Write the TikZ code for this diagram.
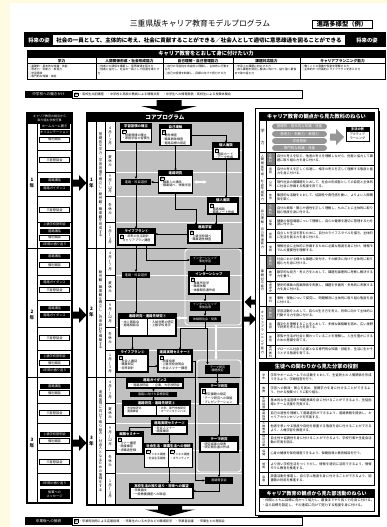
\documentclass[tikz,border=0pt]{standalone}
\usepackage{fontspec}
\setmainfont{Noto Sans CJK JP}
\usetikzlibrary{arrows.meta}
\XeTeXlinebreaklocale "ja"
\XeTeXlinebreakskip=0pt plus 0.5pt
\definecolor{cream}{RGB}{255,251,226}
\definecolor{coregray}{RGB}{192,192,192}
\definecolor{pillgray}{RGB}{150,150,150}
\definecolor{taggray}{RGB}{130,130,130}
\newcommand\fz[2]{\fontsize{#1}{#2}\selectfont}
\newcommand\fA{\fz{3.1}{3.7}}
\newcommand\fAA{\fz{2.8}{3.4}}
\newcommand\fH{\fz{3.4}{3.9}}
\ExplSyntaxOn
\bool_new:N \g_vt_first_bool
\NewDocumentCommand\vt{m}{
  \bool_gset_true:N \g_vt_first_bool
  \tl_map_inline:nn {#1}{
    \bool_if:NF \g_vt_first_bool { \\ }
    \bool_gset_false:N \g_vt_first_bool
    ##1
  }
}
\ExplSyntaxOff
\newcommand\til{\rotatebox[origin=c]{90}{〜}}
\newcommand\rei{{\fboxsep=0.25pt\fboxrule=0.25pt\fbox{例}}}
\tikzset{
  every node/.style={inner sep=0pt, outer sep=0pt},
  blk/.style={fill=black, text=white, align=center},
  cb/.style={draw=black, fill=white, line width=1.1pt},
  hd/.style={fill=black, text=white, font=\fH\bfseries, align=center},
  litem/.style={minimum width=30pt, minimum height=5pt, font=\fz{3.2}{3.6}},
  arr/.style={-{Latex[length=2.4pt,width=2.4pt]}, line width=1pt},
  warr/.style={-{Latex[length=3.5pt,width=4pt]}, white, line width=1.6pt},
  wdarr/.style={{Latex[length=3.5pt,width=4pt]}-{Latex[length=3.5pt,width=4pt]}, white, line width=1.6pt},
  vtx/.style={text width=8pt, align=center},
}
\newcommand\cbx[8]{%
  \node[cb, minimum width=#4pt, minimum height=#5pt] (#1) at (#2,#3) {};
  \node[hd, anchor=north, minimum width=#4pt, minimum height=#8pt] (#1h) at (#1.north) {#6};
  \node[anchor=north west, font=\fA, align=left] (#1c) at ([xshift=1.5pt,yshift=-#8pt-1pt]#1.north west) {#7};
}
\newcommand\prow[6]{%
  \node[draw=black, line width=0.35pt, fill=#3, minimum width=9pt, minimum height=12.875pt] (#1t) at (270.5,#2) {};
  \node[font=\fz{2.8}{3.05}, vtx, text=#4] (#1v) at (#1t) {\vt{#5}};
  \node[anchor=west, font=\fz{3.2}{3.9}, text width=96pt, align=left] (#1x) at (277,#2) {#6};
}
\newcommand\brow[4]{%
  \node[font=\fz{2.8}{3.05}, vtx] (#1v) at (263.75,#2) {\vt{#3}};
  \node[anchor=west, font=\fz{3.2}{3.9}, text width=102pt, align=left] (#1x) at (270.5,#2) {#4};
}
\begin{document}
\begin{tikzpicture}[x=1pt,y=-1pt]
\useasboundingbox (0,0) rectangle (387,527);
\fill[cream] (0,0) rectangle (387,527);
\fill[white] (10,3) rectangle (387,527);

% ---------- title ----------
\node[font=\fz{7.8}{9}] (title) at (200,24) {三重県版キャリア教育モデルプログラム};
\node[draw, line width=0.8pt, font=\fz{6.3}{7}\bfseries, minimum width=60pt, minimum height=8.5pt] (type) at (342,24.5) {進路多様型（例）};

% ---------- future ----------
\node[fill=black, minimum width=362pt, minimum height=15pt, anchor=north west] (fb) at (24,32.5) {};
\node[text=white, font=\fz{5.3}{6}\bfseries] (fl) at (39,40) {将来の姿};
\node[text=white, font=\fz{5.3}{6}\bfseries] (fr) at (367,40) {将来の姿};
\node[fill=white, minimum width=292pt, minimum height=10.5pt, font=\fz{5.5}{6}\bfseries] (ft) at (199,40) {社会の一員として、主体的に考え、社会に貢献することができる／社会人として適切に意思疎通を図ることができる};

% ---------- table ----------
\node[fill=black, minimum width=359pt, minimum height=30pt, anchor=north west] (tbl) at (26.5,50) {};
\node[text=white, font=\fz{5.3}{6}\bfseries] (tblh) at (206,54) {キャリア教育をとおして身に付けたい力};
\foreach \xa/\xb/\hdr [count=\i] in {27/96/学力, 96/163/人間関係形成・社会形成能力, 163/233/自己理解・自己管理能力, 233/300/課題対応能力, 300/385/キャリアプランニング能力}{
  \pgfmathsetmacro\cx{(\xa+\xb)/2}
  \pgfmathsetmacro\cw{\xb-\xa-1}
  \node[fill=white, minimum width=\cw pt, minimum height=5pt, font=\fz{3.7}{4}\bfseries] (th\i) at (\cx,61) {\hdr};
  \node[fill=white, minimum width=\cw pt, minimum height=14.5pt] (tc\i) at (\cx,71.75) {};
}
\node[anchor=north west, font=\fz{2.8}{3.2}, text width=64pt, align=left] (tx1) at (28.5,65.3) {○基礎的・基本的な知識・技能\\○思考力・判断力・表現力\\○学習意欲\\○専門的な知識・技能};
\node[anchor=north west, font=\fz{2.8}{3.2}, text width=62pt, align=left] (tx2) at (97.5,65.3) {○他者との関係を構築し、意思疎通を図る力\\○他者と協力し、社会の一員として役割を果たす力};
\node[anchor=north west, font=\fz{2.8}{3.2}, text width=65pt, align=left] (tx3) at (164.5,65.3) {○自分の可能性を肯定的に理解し、主体的に行動する力\\○自己の感情を制御し、目標に向けて努力する力};
\node[anchor=north west, font=\fz{2.8}{3.2}, text width=62pt, align=left] (tx4) at (234.5,65.3) {○学習上の課題に対応する力\\○自ら課題を発見し解決に向けて、粘り強く最後まで取り組む力};
\node[anchor=north west, font=\fz{2.8}{3.2}, text width=80pt, align=left] (tx5) at (301.5,65.3) {○働くことの意義や役割を理解する力\\○主体的かつ計画的にライフプランを考える力};

% ---------- junior high ----------
\node[blk, font=\fz{3.6}{4}, minimum width=47pt, minimum height=7.5pt] (cj) at (48.5,94.5) {中学校への働きかけ};
\node[draw, line width=0.6pt, fill=white, anchor=west, text width=226pt, minimum height=7.5pt, inner xsep=2pt, font=\fA, align=left] (cjt) at (72,94.5) {\rei\ ・高校生出前講座　・中学校と高校の教員による情報共有　・中学生への情報発信・高校生による授業体験会};
\fill (156.5,100) -- (181.5,100) -- (181.5,106) -- (197,106) -- (169,113) -- (141,106) -- (156.5,106) -- cycle;

% ---------- left column ----------
\draw[line width=1.2pt] (27,113) rectangle (72,503);
\node[blk, font=\fz{3}{3.6}, minimum width=45pt, minimum height=11pt] (lh) at (49.5,118.5) {キャリア教育の視点から\\取り組む学校行事};
\draw[line width=0.5pt] (37,124) -- (37,503);
\foreach \y in {150,172,196,222,275,300,327,350,403,423,450,473}{
  \draw[line width=0.45pt] (37,\y) -- (72,\y);
  \draw[line width=0.45pt] (105,\y) -- (115,\y);
}
\draw[line width=0.9pt] (27,248) -- (72,248);
\draw[line width=0.9pt] (27,377) -- (72,377);
\foreach \t/\y [count=\i] in {ホームルーム開き/126, オリエンテーション/132.5, 進路講話/180, 進路ガイダンス/188, 上級学校説明会/224.5, 進路講話/231, 1年間の振り返り/244, 進路講話/256, 進路ガイダンス/282, 進路講話/308, 進路ガイダンス/315, 上級学校説明会/356, 1年間の振り返り/370, 進路講話/386, 上級学校説明会/434, 3年間の振り返り/483}
  \node[litem, fill=black, text=white] (lb\i) at (54.5,\y) {\t};
\foreach \t/\y [count=\i] in {個別面談/139.5, 三者懇談会/160, 三者懇談会/210, 個別面談/237.5, 個別面談/265, 三者懇談会/290, 三者懇談会/338, 個別面談/363, 個別面談/393, 三者懇談会/413, 個別面談/441, 三者懇談会/462}
  \node[litem, draw=black, line width=0.4pt, fill=white] (lw\i) at (54.5,\y) {\t};
\node[blk, font=\fz{3.2}{3.8}, minimum width=30pt, minimum height=9.5pt] (lmsg) at (54.5,494) {後輩への\\メッセージ};
\foreach \yl/\yc [count=\i] in {1/183, 2/315, 3/443}{
  \node[font=\fz{4.6}{5.2}\bfseries, vtx] (ly\i) at (32,\yc) {\vt{{\yl}{年}}};
  \fill (73,\yc) ++(0,-3.5) -- ++(6,0) -- ++(0,-4.5) -- ++(7.5,8) -- ++(-7.5,8) -- ++(0,-4.5) -- ++(-6,0) -- cycle;
}

% ---------- core program ----------
\fill[coregray] (115,122) rectangle (243,505);
\foreach \y in {150,172,196,222,275,300,327,350,403,423,450,473}
  \draw[white, line width=0.9pt] (115.5,\y) -- (242,\y);
\draw[line width=0.5pt] (96,122) -- (96,505);
\draw[line width=0.5pt] (105,122) -- (105,505);
\draw[line width=0.5pt] (115,122) -- (115,505);
\draw[line width=0.9pt] (87,248) -- (243,248);
\draw[line width=0.9pt] (87,377) -- (243,377);
\draw[line width=1.6pt] (87,113) rectangle (243,505);
\node[blk, font=\fz{5.6}{6.4}\bfseries, minimum width=156pt, minimum height=9pt] (coreh) at (165,117.5) {コアプログラム};
\foreach \yl/\yc [count=\i] in {1/183, 2/312, 3/441}
  \node[font=\fz{4.6}{5.2}\bfseries, vtx] (cy\i) at (91.5,\yc) {\vt{{\yl}{年}}};
\node[font=\fz{3.4}{3.75}, vtx] (vt1) at (100.5,185) {\vt{基礎的な学力・学習習慣を確立し、勤労観・職業観を育成する}};
\node[font=\fz{3.4}{3.75}, vtx] (vt2) at (100.5,310) {\vt{勤労観・職業観を確立し、将来設計を構築する}};
\node[font=\fz{3.4}{3.75}, vtx] (vt3) at (100.5,441) {\vt{進路実現に向けて取り組み、社会人となるための準備をする}};
\foreach \a/\b/\c/\d/\e [count=\j] in {136/161/184/209/235, 261.5/287.5/313.5/338.5/363.5, 390/413/436.5/461.5/489}{
  \node[font=\fz{3.5}{3.9}, vtx] (mA\j) at (110,\a) {\vt{4月\til7月}};
  \node[font=\fz{3.5}{3.9}, vtx] (mB\j) at (110,\b) {\vt{夏休み}};
  \node[font=\fz{3.5}{3.9}, vtx] (mC\j) at (110,\c) {\vt{9月\til{12}月}};
  \node[font=\fz{3.5}{3.9}, vtx] (mD\j) at (110,\d) {\vt{冬休み}};
  \node[font=\fz{3.5}{3.9}, vtx] (mE\j) at (110,\e) {\vt{1月\til3月}};
}

% white regions
\node[draw=white, line width=0.9pt, rounded corners=3pt, minimum width=56pt, minimum height=76pt] (IR) at (213,287) {};
\node[draw=white, line width=0.9pt, rounded corners=3pt, minimum width=44pt, minimum height=112pt] (TR) at (219,416) {};

% year 1
\cbx{A}{136}{133}{31}{18}{学習習慣の確立}{\rei\\・授業規律の確立\\・家庭学習の習慣化}{4.5}
\cbx{B}{175.5}{135}{31}{21}{自己理解}{\rei\\・適性検査\\・職業興味検査\\・進路目標の設定}{4.5}
\cbx{C}{226}{151}{26}{16}{個人面談}{\rei\\・面談カード\\・データ作成}{4.5}
\node[blk, font=\fz{3.2}{3.6}, minimum width=30pt, minimum height=6pt] (SK1) at (136,182) {進路・科目選択};
\cbx{D}{175.5}{182}{34}{22}{進路研究}{\rei\\・職業人の講話\\・職業調べ、体験学習}{4.5}
\cbx{E}{223}{206}{30}{16}{個人面談}{\rei\\・進路相談\\・進路ノート作成}{4.5}
\cbx{F}{205}{234}{34}{18}{進路学習}{\rei\\・上級学校調べ\\・職業適性検査}{4.5}
\cbx{G}{136.5}{237}{37}{16}{ライフプラン①}{\rei\ ・将来の生活設計\\・キャリアプラン講座}{4.5}
% year 2
\node[blk, font=\fz{3}{3.4}, minimum width=30pt, minimum height=9pt] (H) at (205,260) {インターンシップ\\事前学習};
\cbx{I}{209}{283}{40}{22}{インターンシップ}{\rei\\・事業所見学\\・職場体験\\・体験報告書作成}{4.5}
\node[blk, font=\fz{3}{3.4}, minimum width=30pt, minimum height=9pt] (J) at (205,306) {インターンシップ\\事後指導};
\node[blk, font=\fz{3}{3.4}, minimum width=32pt, minimum height=6pt] (K) at (205,319) {体験報告会・発表};
\node[blk, font=\fz{3.2}{3.6}, minimum width=28pt, minimum height=6pt] (SK2) at (136,275) {進路・科目選択};
\node[cb, minimum width=57pt, minimum height=22pt] (L) at (147.5,325) {};
\node[hd, anchor=north, minimum width=57pt, minimum height=4.5pt] (Lh) at (L.north) {進路研究・進路先研究①};
\draw[line width=0.5pt] ([yshift=-4.5pt]L.north) -- (L.south);
\node[anchor=north west, font=\fA, align=left] (Lc1) at ([xshift=1.5pt,yshift=-6.5pt]L.north west) {・本人面談会\\・進路相談会};
\node[anchor=north west, font=\fA, align=left] (Lc2) at ([xshift=1.5pt,yshift=-6.5pt]L.north) {・入試対策の研究\\・上級学校見学};
\cbx{N}{132.5}{361}{31}{22}{ライフプラン②}{\rei\\・社会人講話\\・職業研究\\・将来設計}{4.5}
\cbx{M}{175}{361}{34}{22}{進路実現セミナー①}{\rei\\・面接指導\\・上級学校説明会\\・社会人マナー講座}{4.5}
% year 3
\node[cb, minimum width=56pt, minimum height=10pt] (O) at (155,383) {};
\node[hd, anchor=north, minimum width=56pt, minimum height=4.5pt] (Oh) at (O.north) {進路ガイダンス};
\node[font=\fA] (Oc) at ([yshift=-7.5pt]O.north) {・進路説明会　・企業、大学説明会};
\node[blk, font=\fz{3.1}{3.5}, minimum width=47pt, minimum height=5.5pt] (P) at (153.5,394.5) {進路に向けた目標設定};
\node[cb, minimum width=67pt, minimum height=15pt] (Q) at (156.5,408.5) {};
\node[hd, anchor=north, minimum width=67pt, minimum height=4.5pt] (Qh) at (Q.north) {進路研究・進路先研究②};
\draw[line width=0.5pt] ([yshift=-4.5pt]Q.north) -- (Q.south);
\node[anchor=north west, font=\fAA, align=left] (Qc1) at ([xshift=1.5pt,yshift=-6pt]Q.north west) {・志望校研究\\・面接練習};
\node[anchor=north west, font=\fAA, align=left] (Qc2) at ([xshift=1.5pt,yshift=-6pt]Q.north) {・大学、専門学校研究\\・オープンキャンパス};
\cbx{R}{169.5}{427.5}{35}{13}{進路実現セミナー②}{・社会人マナー\\・面接練習}{4.5}
\cbx{S}{129.5}{443}{27}{22}{就職セミナー}{\rei\\・マナー講座\\・面接練習\\・求職者登録}{4.5}
\node[cb, minimum width=48pt, minimum height=24pt] (T) at (168.5,455.5) {};
\node[hd, anchor=north, minimum width=48pt, minimum height=4.5pt] (Th) at (T.north) {社会生活・職業生活への接続};
\draw[line width=0.5pt] ([yshift=-4.5pt]T.north) -- (T.south);
\node[anchor=north west, font=\fAA, align=left] (Tc1) at ([xshift=1.5pt,yshift=-6pt]T.north west) {\rei\\・ビジネス講座\\・社会生活講座};
\node[anchor=north west, font=\fAA, align=left] (Tc2) at ([xshift=1.5pt,yshift=-6pt]T.north) {\rei\\・ビジネス講座\\・ボランティア};
\cbx{U}{161.5}{491}{63}{15}{高校生活の振り返り・将来への展望}{・卒業論文\\・一般教養講座への取組}{4.5}
\node[blk, font=\fz{3.1}{3.5}, minimum width=28pt, minimum height=6.5pt] (SR) at (219,480.5) {進路報告会};
\node[blk, font=\fz{3}{3.4}, minimum width=25pt, minimum height=9pt] (TK) at (217.5,369) {テーマ研究\\課題設定};
\cbx{V}{219}{394}{38}{21}{テーマ研究}{\rei\\・研究課題の設定\\・テーマ研究への取組\\・プレゼンテーション}{4.5}
\cbx{W}{219}{444.5}{38}{15}{テーマ研究}{・研究成果の発表\\・研究報告書の作成}{4.5}

% connectors
\draw[arr] (A.south) -- (A.south |- SK1.north);
\draw[arr] (B.south) -- (B.south |- D.north);
\draw[arr] (B.east) -| (C.north);
\draw[arr] (D.west) -- (SK1.east);
\draw[arr] (C.south) -- (C.south |- E.north);
\coordinate (wd) at (207,182);
\draw[wdarr] ([xshift=1pt]D.east) -- (wd);
\draw[arr] (D.south) -- ++(0,16) -| ([xshift=-9pt]F.north);
\draw[arr] ([xshift=-6pt]F.north east |- E.south) -- ([xshift=-6pt]F.north east);
\draw[arr] (SK1.south) -- (SK1.south |- G.north);
\draw[arr] (F.west) -- (F.west -| G.east);
\draw[arr] ([xshift=10pt]G.south) |- (H.west);
\draw[arr] (SK1.south |- G.south) -- (SK1.south |- SK2.north);
\draw[arr] (SK2.south) -- (SK2.south |- L.north);
\draw[arr] (H.south) -- (H.south |- I.north);
\draw[arr] (J.north |- I.south) -- (J.north);
\draw[arr] (J.south) -- (K.north);
\coordinate (kj) at (205,328.5);
\draw[line width=1pt] (K.south) -- (kj);
\draw[arr] (kj) -| ([xshift=5pt]M.north);
\draw[arr] (kj) -| ([xshift=-10pt]TK.north);
\coordinate (wl) at (187,318);
\draw[warr] (wl) -- (wl -| L.east);
\draw[warr] ([xshift=3pt]IR.south) -- ([xshift=3pt]IR.south |- TR.north);
\draw[arr] (N.north |- L.south) -- (N.north);
\draw[arr] ([yshift=-5pt]N.east) -- ([yshift=-5pt]M.west);
\draw[arr] (M.east) -- ++(3,0) |- (SR.west);
\draw[arr] (P.north |- O.south) -- (P.north);
\draw[arr] (P.south) -- (P.south |- Q.north);
\draw[arr] (R.north |- Q.south) -- (R.north);
\draw[arr] (R.west) -| (S.north);
\draw[arr] (R.south) -- (R.south |- T.north);
\draw[arr] (R.south |- T.south) -- (R.south |- U.north);
\draw[arr] (TK.south) -- (TK.south |- V.north);
\draw[arr] (V.south) -- (W.north);
\draw[arr] (W.south) -- (SR.north);
\draw[arr] (SR.south) |- (U.east);

% bottom
\fill (158,505.5) -- (182,505.5) -- (182,509.5) -- (195,509.5) -- (170,516) -- (145,509.5) -- (158,509.5) -- cycle;
\node[blk, font=\fz{3.6}{4}, minimum width=47pt, minimum height=8pt] (sb) at (48.5,521) {卒業後への接続};
\node[draw, line width=0.6pt, fill=white, anchor=west, text width=226pt, minimum height=8pt, inner xsep=2pt, font=\fA, align=left] (sbt) at (72,521) {\rei\ ・卒業時訪問による定着指導　・卒業生のいる大学などの職場見学　・卒業者会議　・卒業生との懇談会};

% core <-> right arrows
\fill (256,299.5) -- (251,299.5) -- (251,295.5) -- (244.5,302) -- (251,308.5) -- (251,304.5) -- (256,304.5) -- cycle;
\fill (244,316.5) -- (249.5,316.5) -- (249.5,312.5) -- (256,319) -- (249.5,325.5) -- (249.5,321.5) -- (244,321.5) -- cycle;

% ---------- right panel ----------
\fill (257.5,110.5) rectangle (380,517);
\draw[fill=white, line width=0.9pt] (255,108) rectangle (378,515);
\draw[line width=0.8pt] (259,112) rectangle (374,358);
\node[blk, font=\fz{5.2}{6}\bfseries, minimum width=115pt, minimum height=9pt] (rh1) at (316.5,116.5) {キャリア教育の観点から見た教科のねらい};
\node[font=\fz{4}{4.5}] (gl1) at (262.5,131) {学};
\node[font=\fz{4}{4.5}] (gl2) at (262.5,143) {力};
\foreach \t/\y [count=\i] in {基礎的・基本的な知識・技能/126.5, 思考力・判断力・表現力/134, 学習意欲/141, 専門的な知識・技能/148}
  \node[fill=pillgray, rounded corners=3pt, text=white, font=\fz{3.5}{4}, minimum width=55pt, minimum height=5.8pt] (pl\i) at (299.5,\y) {\t};
\fill[pillgray] (330,133.5) -- (336,133.5) -- (336,129) -- (344,137) -- (336,145) -- (336,140.5) -- (330,140.5) -- cycle;
\node[draw, line width=0.6pt, fill=white, minimum width=23pt, minimum height=14pt] (hb) at (357.5,134) {};
\node[blk, font=\fz{3.2}{3.6}\bfseries, minimum width=23pt, minimum height=5pt, anchor=north] (hbh) at (hb.north) {手法の例};
\node[font=\fz{3.1}{3.6}, align=center] (hbt) at ([yshift=-2.5pt]hb.center) {アクティブ\\ラーニング};
\draw[line width=0.5pt] (266,121) -- (266,358);
\draw[line width=0.5pt] (275,152) -- (275,358);
\foreach \y in {152,203.5,255,306.5}
  \draw[line width=0.7pt] (259,\y) -- (374,\y);
\foreach \y in {164.875,177.75,190.625,216.375,229.25,242.125,267.875,280.75,293.625,319.375,332.25,345.125}
  \draw[line width=0.4pt] (266,\y) -- (374,\y);
\node[font=\fz{3.1}{3.6}, vtx] (sl1) at (262.5,177.75) {\vt{人間関係形成・社会形成能力}};
\node[font=\fz{3.1}{3.6}, vtx] (sl2) at (262.5,229.25) {\vt{自己理解・自己管理能力}};
\node[font=\fz{3.1}{3.6}, vtx] (sl3) at (262.5,280.75) {\vt{課題対応能力}};
\node[font=\fz{3.1}{3.6}, vtx] (sl4) at (262.5,332.25) {\vt{キャリアプランニング能力}};
\prow{a1}{158.44}{taggray}{white}{全教科}{自分の考えを伝え、他者の考えを理解しながら、他者と協力して課題に取り組む力を身に付ける。}
\prow{a2}{171.31}{white}{black}{国語}{自分の考えを正しく伝達し、相手の考えを正しく理解する態度と能力を身に付ける。}
\prow{a3}{184.19}{white}{black}{公民}{現代社会の諸課題をとおして、社会の形成者としての自覚と主体的に社会に参画する態度を育てる。}
\prow{a4}{197.06}{white}{black}{体育}{集団的な活動をとおして、協調性や責任感を養い、よりよい人間関係を築く。}
\prow{b1}{209.94}{taggray}{white}{全教科}{自分の興味・関心や適性を正しく理解し、ものごとに主体的に取り組む態度を身に付ける。}
\prow{b2}{222.81}{white}{black}{保健}{健康の保持増進について理解し、自らの健康を適切に管理する力を身に付ける。}
\prow{b3}{235.69}{white}{black}{家庭}{自立した生活を営むために、自分のライフスタイルを描き、主体的に生活を創る力を身に付ける。}
\prow{b4}{248.56}{white}{black}{情報}{情報社会に主体的に参画するために必要な態度を身に付け、情報モラルの重要性を理解する。}
\prow{c1}{261.44}{taggray}{white}{全教科}{社会における様々な課題に気付き、その解決に向けて主体的に取り組む力を身に付ける。}
\prow{c2}{274.31}{white}{black}{数学}{数学的な見方・考え方をとおして、課題を論理的に考察し解決する力を養う。}
\prow{c3}{287.19}{white}{black}{地理歴史}{歴史的事象の因果関係を考察し、課題を多面的・多角的に考察する力を身に付ける。}
\prow{c4}{300.06}{white}{black}{理科}{事物・現象について探究し、問題解決に主体的に取り組む態度を身に付ける。}
\prow{d1}{312.94}{taggray}{white}{全教科}{学習活動をとおして、自らの生き方を考え、将来に向けて主体的に行動する力を身に付ける。}
\prow{d2}{325.81}{white}{black}{英語}{異文化を理解することをとおして、多様な価値観を認め、広い視野で将来を考える力を育てる。}
\prow{d3}{338.69}{white}{black}{家庭}{家族や生活が社会と関わっていることを理解し、人生を豊かにするための意識を育てる。}
\prow{d4}{351.56}{white}{black}{専門教科}{グローバル社会で必要となる専門的な知識・技能を、生活に生かそうとする態度を育てる。}

\draw[line width=0.8pt] (259,362) rectangle (374,485);
\node[blk, font=\fz{5.2}{6}\bfseries, minimum width=115pt, minimum height=9pt] (rh2) at (316.5,366.5) {生徒への関わりから見た分掌の役割};
\draw[line width=0.5pt] (268.5,371) -- (268.5,485);
\foreach \y in {383.67,396.33,409,421.67,434.33,447,459.67,472.33}
  \draw[line width=0.4pt] (259,\y) -- (374,\y);
\brow{e1}{377.33}{学年}{学年やホームルームでの活動をとおして、生徒同士の人間関係を形成できるよう、学級経営を行う。}
\brow{e2}{390}{教務}{学習への興味・関心を高め、基礎学力を身に付けることができるよう、分かる授業づくりに取り組む。}
\brow{e3}{402.67}{生徒指導}{基本的な生活習慣や規範意識を身に付けることができるよう、生徒指導とチーム支援を充実する。}
\brow{e4}{415.33}{進路指導}{自己の適性を理解して進路選択ができるよう、進路情報を提供し、キャリアカウンセリングを充実する。}
\brow{e5}{428}{人権教育}{他者を思いやる態度や自他を尊重する態度を身に付けることができるよう、人権学習を推進する。}
\brow{e6}{440.67}{特別活動}{自主性や協調性を身に付けることができるよう、学校行事や生徒会活動の充実を図る。}
\brow{e7}{453.33}{保健}{心身の健康を保持増進できるよう、保健指導と教育相談を行う。}
\brow{e8}{466}{情報}{より良い学校生活をつくりだし、情報を適切に活用できるよう、情報モラル教育を推進する。}
\brow{e9}{478.67}{図書}{読書活動を推進し、自ら学ぶ態度を身に付けることができるよう、図書館の利用を推進する。}

\draw[line width=0.8pt] (259,489) rectangle (374,511);
\node[blk, font=\fz{5}{6}\bfseries, minimum width=115pt, minimum height=8.5pt] (rh3) at (316.5,493.25) {キャリア教育の観点から見た部活動のねらい};
\node[anchor=north west, font=\fz{3.3}{4.3}, align=left] (club) at (262,499) {・仲間とともに目標に向かって協力し、最後までやり抜く力を身に付ける。\\・自ら目標を設定し、その達成に向けて努力する態度を身に付ける。};
\end{tikzpicture}
\end{document}
